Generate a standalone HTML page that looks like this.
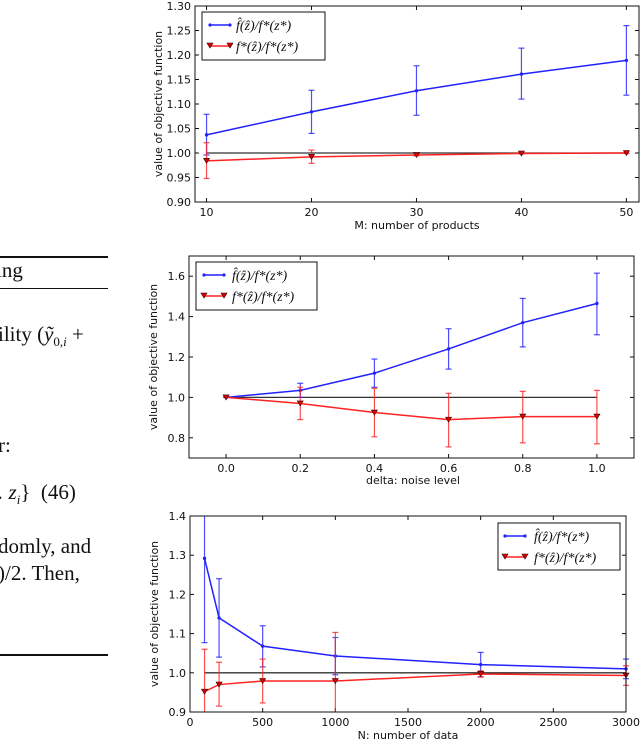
<!DOCTYPE html>
<html><head><meta charset="utf-8"><style>
body{margin:0;background:#fff;width:640px;height:741px;overflow:hidden;position:relative}
.tx{position:absolute;left:0;font-family:"Liberation Serif","DejaVu Serif",serif;font-size:21px;white-space:nowrap;color:#111}
.rule{position:absolute;left:0;width:108px;background:#111}
svg{position:absolute;left:0;top:0}
svg text{font-family:"DejaVu Sans","Liberation Sans",sans-serif;font-size:11px;fill:#111}
.lg{font-family:'Liberation Serif',serif !important;font-size:14px !important;font-style:italic}
</style></head><body>
<div class="rule" style="top:256px;height:2px"></div>
<div class="tx" style="top:258px;left:-4px">ing</div>
<div class="rule" style="top:288px;height:1px"></div>
<div class="tx" style="top:322px;left:-2px">ility (<i>ỹ</i><sub style="font-size:13px">0,<i>i</i></sub> +</div>
<div class="tx" style="top:433px;left:-2px">r:</div>
<div class="tx" style="top:480px;left:-2px"><i>.</i> <i>z<sub style="font-size:13px">i</sub></i>}&nbsp;&nbsp;(46)</div>
<div class="tx" style="top:534px;left:-2px">domly, and</div>
<div class="tx" style="top:561px;left:-2px">)/2. Then,</div>
<div class="rule" style="top:654px;height:2px"></div>

<svg id="s" width="640" height="741" viewBox="0 0 640 741">
<text x="0" y="0">.</text>
<text x="417" y="229" text-anchor="middle">M: number of products</text>
<text transform="translate(162,104) rotate(-90)" text-anchor="middle">value of objective function</text>
<text x="413" y="484" text-anchor="middle">delta: noise level</text>
<text transform="translate(157,357) rotate(-90)" text-anchor="middle">value of objective function</text>
<text x="408" y="739" text-anchor="middle">N: number of data</text>
<text transform="translate(158,614) rotate(-90)" text-anchor="middle">value of objective function</text>
<rect x="202" y="12" width="123" height="48" fill="#fff" stroke="#111"/>
<line x1="210" y1="25" x2="230" y2="25" stroke="#22f" stroke-width="1.5"/><circle cx="210" cy="25" r="1.6" fill="#22f"/><circle cx="230" cy="25" r="1.6" fill="#22f"/>
<text x="236" y="30" class="lg">f̂(ẑ)/f*(z*)</text>
<line x1="210" y1="46" x2="230" y2="46" stroke="#f22" stroke-width="1.5"/><path d="M207,43 h6 l-3,5z M227,43 h6 l-3,5z" fill="#d00" stroke="#300" stroke-width=".6"/>
<text x="236" y="51" class="lg">f*(ẑ)/f*(z*)</text>

<rect x="196" y="262" width="121" height="48" fill="#fff" stroke="#111"/>
<line x1="204" y1="275" x2="224" y2="275" stroke="#22f" stroke-width="1.5"/><circle cx="204" cy="275" r="1.6" fill="#22f"/><circle cx="224" cy="275" r="1.6" fill="#22f"/>
<text x="232" y="280" class="lg">f̂(ẑ)/f*(z*)</text>
<line x1="204" y1="296" x2="224" y2="296" stroke="#f22" stroke-width="1.5"/><path d="M201,293 h6 l-3,5z M221,293 h6 l-3,5z" fill="#d00" stroke="#300" stroke-width=".6"/>
<text x="232" y="301" class="lg">f*(ẑ)/f*(z*)</text>

<rect x="498" y="523" width="122" height="47" fill="#fff" stroke="#111"/>
<line x1="505" y1="536" x2="525" y2="536" stroke="#22f" stroke-width="1.5"/><circle cx="505" cy="536" r="1.6" fill="#22f"/><circle cx="525" cy="536" r="1.6" fill="#22f"/>
<text x="534" y="541" class="lg">f̂(ẑ)/f*(z*)</text>
<line x1="505" y1="557" x2="525" y2="557" stroke="#f22" stroke-width="1.5"/><path d="M502,554 h6 l-3,5z M522,554 h6 l-3,5z" fill="#d00" stroke="#300" stroke-width=".6"/>
<text x="534" y="562" class="lg">f*(ẑ)/f*(z*)</text>
</svg>
<script>
var NS="http://www.w3.org/2000/svg",svg=document.getElementById('s'),legendFirst=svg.querySelector('rect');
function el(t,a){var e=document.createElementNS(NS,t);for(var k in a)e.setAttribute(k,a[k]);svg.insertBefore(e,legendFirst);return e;}
function plot(P){
 var X=function(v){return P.x0+(v-P.xl[0])*(P.x1-P.x0)/(P.xl[1]-P.xl[0]);};
 var Y=function(v){return P.y1-(v-P.yl[0])*(P.y1-P.y0)/(P.yl[1]-P.yl[0]);};
 el('rect',{x:P.x0,y:P.y0,width:P.x1-P.x0,height:P.y1-P.y0,fill:'#fff'});
 P.xt.forEach(function(t){var x=X(t[0]);el('line',{x1:x,x2:x,y1:P.y1,y2:P.y1-4,stroke:'#111'});el('line',{x1:x,x2:x,y1:P.y0,y2:P.y0+4,stroke:'#111'});
  var tx=el('text',{x:x,y:P.y1+14,'text-anchor':'middle'});tx.textContent=t[1];});
 P.yt.forEach(function(t){var y=Y(t[0]);el('line',{x1:P.x0,x2:P.x0+4,y1:y,y2:y,stroke:'#111'});el('line',{x1:P.x1,x2:P.x1-4,y1:y,y2:y,stroke:'#111'});
  var tx=el('text',{x:P.x0-4,y:y+4,'text-anchor':'end'});tx.textContent=t[1];});
 el('line',{x1:X(P.xs[0]),x2:X(P.xs[P.xs.length-1]),y1:Y(1),y2:Y(1),stroke:'#333','stroke-width':1.3});
 function series(d,col,tri){
  var pts=P.xs.map(function(x,i){return X(x)+','+Y(d[i][0]);}).join(' ');
  d.forEach(function(v,i){var x=X(P.xs[i]),a=Math.min(Y(v[1]),P.y1),b=Math.max(Y(v[2]),P.y0);
   el('line',{x1:x,x2:x,y1:a,y2:b,stroke:col,'stroke-width':1.2,opacity:.8});
   if(Y(v[1])<=P.y1)el('line',{x1:x-3,x2:x+3,y1:a,y2:a,stroke:col,'stroke-width':1.2,opacity:.8});
   if(Y(v[2])>=P.y0)el('line',{x1:x-3,x2:x+3,y1:b,y2:b,stroke:col,'stroke-width':1.2,opacity:.8});});
  el('polyline',{points:pts,fill:'none',stroke:col,'stroke-width':1.5});
  d.forEach(function(v,i){var x=X(P.xs[i]),y=Y(v[0]);
   if(tri)el('path',{d:'M'+(x-3)+','+(y-2.5)+'h6l-3,5z',fill:'#d00',stroke:'#300','stroke-width':.6});
   else el('circle',{cx:x,cy:y,r:1.7,fill:col});});
 }
 series(P.b,'#22f',false);series(P.r,'#f22',true);
 el('rect',{x:P.x0,y:P.y0,width:P.x1-P.x0,height:P.y1-P.y0,fill:'none',stroke:'#111','stroke-width':1});
}
plot({x0:195,x1:639,y0:6,y1:202,xl:[8.9,51.2],yl:[0.9,1.3],xs:[10,20,30,40,50],
 xt:[[10,'10'],[20,'20'],[30,'30'],[40,'40'],[50,'50']],
 yt:[[0.9,'0.90'],[0.95,'0.95'],[1.0,'1.00'],[1.05,'1.05'],[1.1,'1.10'],[1.15,'1.15'],[1.2,'1.20'],[1.25,'1.25'],[1.3,'1.30']],
 b:[[1.037,0.996,1.079],[1.084,1.040,1.128],[1.127,1.077,1.178],[1.161,1.110,1.214],[1.189,1.118,1.260]],
 r:[[0.984,0.948,1.021],[0.992,0.979,1.006],[0.996,0.994,0.999],[0.999,0.998,1.0],[1.0,0.999,1.0]]});
plot({x0:189,x1:634,y0:256,y1:458,xl:[-0.1,1.1],yl:[0.7,1.7],xs:[0,0.2,0.4,0.6,0.8,1.0],
 xt:[[0,'0.0'],[0.2,'0.2'],[0.4,'0.4'],[0.6,'0.6'],[0.8,'0.8'],[1,'1.0']],
 yt:[[0.8,'0.8'],[1.0,'1.0'],[1.2,'1.2'],[1.4,'1.4'],[1.6,'1.6']],
 b:[[1.0,1.0,1.0],[1.035,1.0,1.07],[1.12,1.05,1.19],[1.24,1.14,1.34],[1.37,1.25,1.49],[1.465,1.31,1.615]],
 r:[[1.0,1.0,1.0],[0.97,0.89,1.05],[0.925,0.805,1.045],[0.89,0.755,1.02],[0.905,0.775,1.03],[0.905,0.77,1.035]]});
plot({x0:190,x1:626,y0:516,y1:712,xl:[0,3000],yl:[0.9,1.4],xs:[100,200,500,1000,2000,3000],
 xt:[[0,'0'],[500,'500'],[1000,'1000'],[1500,'1500'],[2000,'2000'],[2500,'2500'],[3000,'3000']],
 yt:[[0.9,'0.9'],[1.0,'1.0'],[1.1,'1.1'],[1.2,'1.2'],[1.3,'1.3'],[1.4,'1.4']],
 b:[[1.292,1.077,1.5],[1.14,1.04,1.24],[1.068,1.015,1.12],[1.043,0.995,1.09],[1.021,0.99,1.052],[1.01,0.985,1.035]],
 r:[[0.952,0.8,1.06],[0.97,0.915,1.027],[0.979,0.923,1.035],[0.979,0.8,1.103],[0.997,0.989,1.005],[0.993,0.968,1.018]]});
svg.querySelector('text').remove();
</script>
</body></html>
